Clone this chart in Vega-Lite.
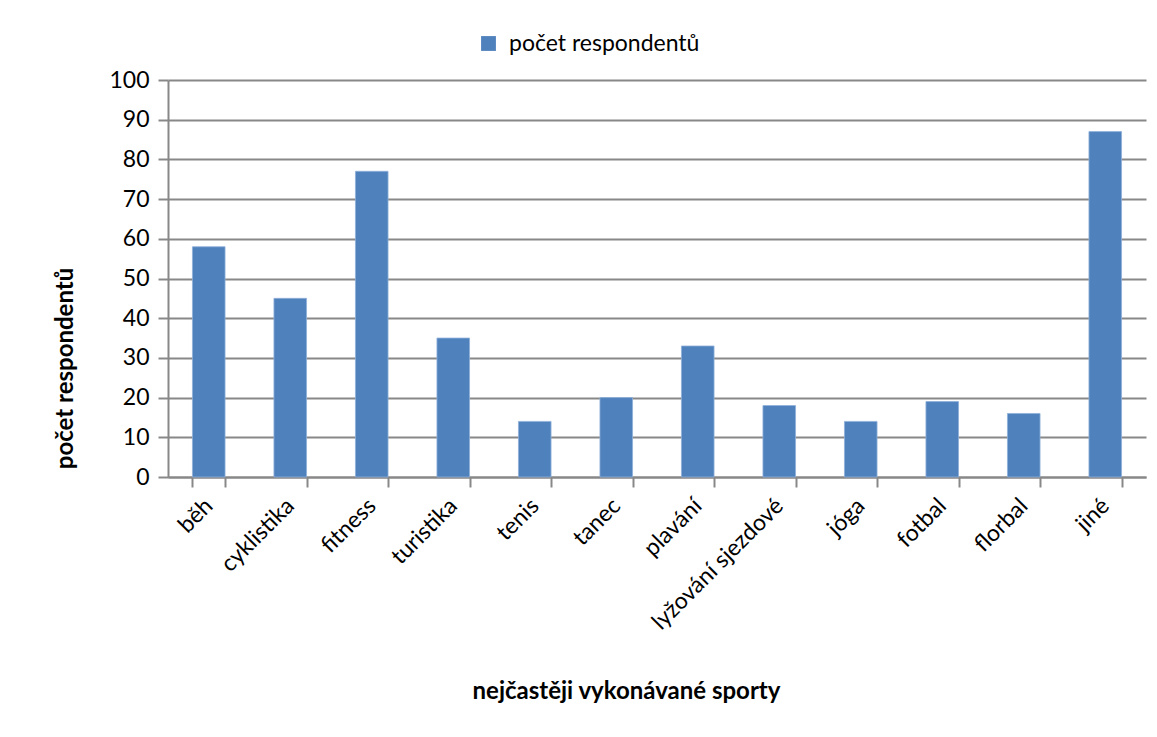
{
  "$schema": "https://vega.github.io/schema/vega-lite/v6.json",
  "autosize": "none",
  "width": 978,
  "height": 397,
  "padding": {"left": 168, "top": 80, "right": 11, "bottom": 260},
  "background": "white",
  "data": {"values": [
    {"sport": "běh", "pocet": 58, "serie": "počet respondentů"},
    {"sport": "cyklistika", "pocet": 45, "serie": "počet respondentů"},
    {"sport": "fitness", "pocet": 77, "serie": "počet respondentů"},
    {"sport": "turistika", "pocet": 35, "serie": "počet respondentů"},
    {"sport": "tenis", "pocet": 14, "serie": "počet respondentů"},
    {"sport": "tanec", "pocet": 20, "serie": "počet respondentů"},
    {"sport": "plavání", "pocet": 33, "serie": "počet respondentů"},
    {"sport": "lyžování sjezdové", "pocet": 18, "serie": "počet respondentů"},
    {"sport": "jóga", "pocet": 14, "serie": "počet respondentů"},
    {"sport": "fotbal", "pocet": 19, "serie": "počet respondentů"},
    {"sport": "florbal", "pocet": 16, "serie": "počet respondentů"},
    {"sport": "jiné", "pocet": 87, "serie": "počet respondentů"}
  ]},
  "mark": {"type": "bar", "stroke": "#8fb0db", "strokeWidth": 0.8},
  "encoding": {
    "x": {
      "field": "sport", "type": "nominal", "sort": null,
      "scale": {"paddingInner": 0.6, "paddingOuter": 0.3},
      "axis": {
        "title": "nejčastěji vykonávané sporty",
        "titleFont": "Lato", "titleFontSize": 24, "titleFontWeight": "bold", "titleColor": "black",
        "titleX": 458, "titleY": 214, "titleBaseline": "middle",
        "labelAngle": -45, "labelAlign": "right", "labelBaseline": "middle",
        "labelPadding": 15, "labelFont": "Lato", "labelFontSize": 23, "labelColor": "black",
        "tickBand": "extent", "tickSize": 10, "tickColor": "#888888", "tickWidth": 2,
        "domainColor": "#888888", "domainWidth": 2, "grid": false
      }
    },
    "y": {
      "field": "pocet", "type": "quantitative",
      "scale": {"domain": [0, 100]},
      "axis": {
        "title": "počet respondentů",
        "titleFont": "Lato", "titleFontSize": 24, "titleFontWeight": "bold", "titleColor": "black",
        "titleX": -103, "titleY": 288, "titleBaseline": "middle",
        "values": [0, 10, 20, 30, 40, 50, 60, 70, 80, 90, 100],
        "labelFont": "Lato", "labelFontSize": 23, "labelColor": "black", "labelPadding": 9,
        "tickSize": 10, "tickColor": "#888888", "tickWidth": 2,
        "domainColor": "#888888", "domainWidth": 2,
        "grid": true, "gridColor": "#888888", "gridWidth": 2
      }
    },
    "color": {
      "field": "serie", "type": "nominal",
      "scale": {"range": ["#4F81BD"]},
      "legend": {
        "title": null, "orient": "none", "legendX": 309, "legendY": -48,
        "symbolType": "square", "symbolSize": 220, "symbolStrokeWidth": 0,
        "labelFont": "Lato", "labelFontSize": 23, "labelColor": "black", "labelOffset": 9,
        "labelLimit": 500
      }
    }
  },
  "config": {"view": {"stroke": null}}
}
